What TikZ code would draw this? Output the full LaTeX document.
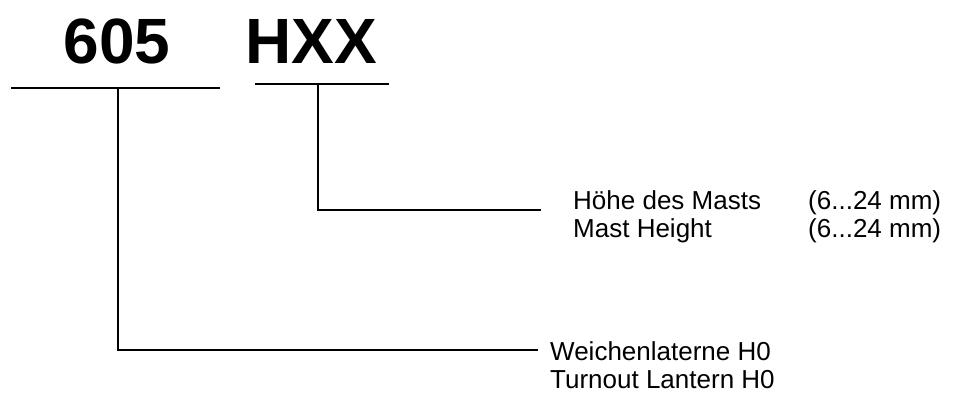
\documentclass[tikz,border=0pt]{standalone}
\usepackage{fontspec}
\setmainfont{Liberation Sans}
\begin{document}
\begin{tikzpicture}[x=1pt,y=-1pt,
  big/.style={font=\fontsize{64}{70}\selectfont\bfseries, inner sep=0pt, anchor=base},
  lbl/.style={font=\fontsize{26}{30}\selectfont, inner sep=0pt, anchor=base west},
  ln/.style={line width=2pt, line cap=rect}]
\useasboundingbox (0,0) rectangle (956,394);
\node[big] (n605) at (117,63) {605};
\node[big] (nhxx) at (311,63) {HXX};
\coordinate (aL) at (12,88);
\coordinate (aR) at (219,88);
\coordinate (aM) at (118,88);
\coordinate (bL) at (256,84);
\coordinate (bR) at (388,84);
\coordinate (bM) at (318,84);
\coordinate (aE) at (537,350);
\coordinate (bE) at (540,210);
\draw[ln] (aL) -- (aR);
\draw[ln] (bL) -- (bR);
\draw[ln] (aM) |- (aE);
\draw[ln] (bM) |- (bE);
\node[lbl] (hoehe) at (573,209) {Höhe des Masts};
\node[lbl] (mast) at (573,237) {Mast Height};
\node[lbl] (r1) at (808,209) {(6...24 mm)};
\node[lbl] (r2) at (808,237) {(6...24 mm)};
\node[lbl] (weich) at (550,360) {Weichenlaterne H0};
\node[lbl] (turn) at (550,388) {Turnout Lantern H0};
\end{tikzpicture}
\end{document}
